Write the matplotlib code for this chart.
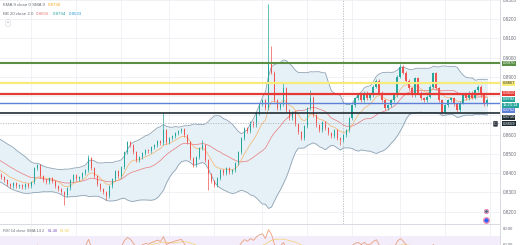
import numpy as np
import pandas as pd
import matplotlib
matplotlib.use("Agg")
import matplotlib.pyplot as plt
import matplotlib.transforms as mtrans

plt.rcParams["font.family"] = ["Liberation Sans", "DejaVu Sans"]

# ---------------- data ----------------
history_closes = [0.8560, 0.8548, 0.8552, 0.8530, 0.8518, 0.8525, 0.8502, 0.8490, 0.8478, 0.8485,
                  0.8462, 0.8450, 0.8441, 0.8428, 0.8435, 0.8410, 0.8402, 0.8395, 0.8388, 0.8392]
closes = [
    0.8379, 0.8363, 0.8343, 0.8332, 0.8348, 0.8332, 0.8337, 0.8327, 0.8343, 0.8332,
    0.8353, 0.8425, 0.8441, 0.8384, 0.8363, 0.8353, 0.8374, 0.8358, 0.8332, 0.8317,
    0.8301, 0.8286, 0.8322, 0.8363, 0.8389, 0.8368, 0.8379, 0.8400, 0.8415, 0.8477,
    0.8425, 0.8384, 0.8343, 0.8317, 0.8301, 0.8280, 0.8332, 0.8368, 0.8410, 0.8384,
    0.8431, 0.8508, 0.8560, 0.8545, 0.8508, 0.8467, 0.8482, 0.8503, 0.8519, 0.8514,
    0.8534, 0.8545, 0.8565, 0.8555, 0.8622, 0.8560, 0.8581, 0.8591, 0.8607, 0.8617,
    0.8627, 0.8596, 0.8560, 0.8477, 0.8441, 0.8482, 0.8529, 0.8545, 0.8467, 0.8394,
    0.8358, 0.8337, 0.8374, 0.8415, 0.8400, 0.8425, 0.8405, 0.8415, 0.8451, 0.8508,
    0.8581, 0.8633, 0.8617, 0.8664, 0.8648, 0.8710, 0.8757, 0.8778, 0.8736, 0.8975,
    0.8923, 0.8778, 0.8736, 0.8757, 0.8840, 0.8726, 0.8684, 0.8716, 0.8653, 0.8612,
    0.8581, 0.8643, 0.8736, 0.8793, 0.8700, 0.8648, 0.8622, 0.8664, 0.8633, 0.8607,
    0.8591, 0.8622, 0.8581, 0.8570, 0.8596, 0.8622, 0.8684, 0.8752, 0.8788, 0.8804,
    0.8778, 0.8819, 0.8788, 0.8804, 0.8850, 0.8881, 0.8819, 0.8778, 0.8736, 0.8752,
    0.8778, 0.8804, 0.8902, 0.8954, 0.8923, 0.8881, 0.8840, 0.8804, 0.8892, 0.8819,
    0.8788, 0.8778, 0.8798, 0.8850, 0.8918, 0.8840, 0.8778, 0.8716, 0.8752, 0.8778,
    0.8788, 0.8757, 0.8726, 0.8767, 0.8804, 0.8788, 0.8819, 0.8793, 0.8830, 0.8850,
    0.8804, 0.8757, 0.8782]
spike_highs = {29: 0.8493, 54: 0.8710, 67: 0.8570, 89: 0.9280, 90: 0.9063,
               94: 0.8866, 103: 0.8830, 133: 0.8969}
spike_lows = {21: 0.8234, 35: 0.8260, 69: 0.8312, 113: 0.8545}

level_prices = [0.8970, 0.8867, 0.8810, 0.8762, 0.8710]
level_labels = ["0.8970", "0.8867", "0.8810", "0.8762", "0.8710"]
level_colors = ["#5a8f45", "#f7ec7a", "#e53935", "#5d80d8", "#1f2d35"]
level_widths = [1.5, 1.6, 1.6, 1.0, 1.2]
label_prices = [0.8970, 0.8866, 0.8814, 0.8726, 0.8690]
label_text_colors = ["white", "#333333", "white", "white", "white"]

last_close_label = "0.8782"
countdown_label = "11:23:14"
dashed_price = 0.8659
dashed_label = "0.8659"
price_ticks = [0.82, 0.83, 0.84, 0.85, 0.86, 0.87, 0.88, 0.89, 0.90, 0.91, 0.92, 0.93]
hidden_ticks = [0.87, 0.88]
rsi_ticks = [60, 80]
legend_ema = ["EMA 9 close 0 SMA 9", "0.8790"]
legend_bb = ["BB 20 close 2.0", "0.8656", "0.8794", "0.8533"]
legend_rsi = ["RSI 14 close SMA 14 2", "61.48", "53.92"]

# ---------------- indicators ----------------
s = pd.Series(history_closes + closes)
n_hist = len(history_closes)
idx = np.arange(len(s)) - n_hist
opens = s.shift(1).fillna(s.iloc[0])
basis = s.rolling(20).mean()
sd = s.rolling(20).std(ddof=0)
upper = basis + 2 * sd
lower = basis - 2 * sd
ema = s.ewm(span=9, adjust=False).mean()
d = s.diff().fillna(0)
gain = d.clip(lower=0).ewm(alpha=1 / 14, adjust=False).mean()
loss = (-d.clip(upper=0)).ewm(alpha=1 / 14, adjust=False).mean()
rsi = 100 - 100 / (1 + gain / loss.replace(0, 1e-9))
rsi_ma = rsi.rolling(14).mean()

# ---------------- figure ----------------
W, H = 520, 245
fig = plt.figure(figsize=(W / 100, H / 100), dpi=100)
fig.patch.set_facecolor("white")
ax = fig.add_axes([0, 21 / H, 500 / W, 224 / H])
rax = fig.add_axes([0, 0, 500 / W, 20 / H])

ymax = 0.87 + 115 / 1930
ymin = 0.87 - 109 / 1930
ax.set_ylim(ymin, ymax)
ax.set_xlim(-0.5, 166.2)

grid_c = "#eef0f4"
for t in price_ticks:
    ax.axhline(t, color=grid_c, lw=0.6, zorder=0)
for gx in [10, 25, 40, 56, 71, 87, 102, 117, 133, 148, 163]:
    ax.axvline(gx, color=grid_c, lw=0.6, zorder=0)
    rax.axvline(gx, color=grid_c, lw=0.6, zorder=0)

# Bollinger band
ax.fill_between(idx, lower, upper, color="#e6f0f7", zorder=1, lw=0)
ax.plot(idx, upper, color="#8fa3b3", lw=0.6, zorder=2)
ax.plot(idx, lower, color="#8fa3b3", lw=0.6, zorder=2)
ax.plot(idx, basis, color="#e8797a", lw=0.5, zorder=2)
ax.plot(idx, ema, color="#f5b26b", lw=0.5, zorder=2)

# candles
up_c, dn_c = "#26a69a", "#ef5350"
wick = 0.0008
for i, o, c in zip(idx, opens, s):
    if i < 0:
        continue
    col = up_c if c >= o else dn_c
    hi = spike_highs.get(i, max(o, c) + wick)
    lo = spike_lows.get(i, min(o, c) - wick)
    ax.vlines(i, lo, hi, color=col, lw=0.5, zorder=3)
    h = c - o
    if abs(h) < 0.0003:
        h = 0.0003 if h >= 0 else -0.0003
    ax.bar(i, h, bottom=o, width=0.62, color=col, lw=0, zorder=4)

# levels
for p, col, lw in zip(level_prices, level_colors, level_widths):
    ax.axhline(p, color=col, lw=lw, zorder=5)
ax.axhline(dashed_price, color="#b2b5be", lw=0.6, ls=(0, (1.5, 1.5)), zorder=5)
ax.axvline(114, color="#b2b5be", lw=0.6, ls=(0, (1.5, 1.5)), zorder=1)

# axis styling
ax.yaxis.tick_right()
ax.set_yticks(price_ticks)
ax.set_yticklabels(["" if any(abs(t - h) < 1e-9 for h in hidden_ticks) else f"{t:.4f}"
                    for t in price_ticks])
ax.tick_params(axis="y", labelsize=3.3, colors="#6a6d78", length=0, pad=2)
ax.set_xticks([])
for sp in ["top", "left"]:
    ax.spines[sp].set_visible(False)
ax.spines["right"].set_color("#d1d4dc")
ax.spines["right"].set_linewidth(0.6)
ax.spines["bottom"].set_color("#d1d4dc")
ax.spines["bottom"].set_linewidth(0.6)

# right-side price labels
tr = mtrans.blended_transform_factory(ax.transAxes, ax.transData)
def box(y, txt, fc, tc="white"):
    ax.text(1.005, y, txt, transform=tr, fontsize=3.0, color=tc, va="center", ha="left",
            clip_on=False, zorder=10,
            bbox=dict(boxstyle="square,pad=0.12", fc=fc, ec="none"))

for lp, lt, col, tc in zip(label_prices, level_labels, level_colors, label_text_colors):
    box(lp, lt, col, tc)
box(0.8783, last_close_label, "#26a69a")
box(0.8754, countdown_label, "#26a69a")
box(0.8656, dashed_label, "#1f2d35")
ax.text(0.991, 0.8656, "C", transform=tr, fontsize=2.8, color="white", va="center", ha="center",
        clip_on=False, zorder=10, bbox=dict(boxstyle="round,pad=0.2", fc="#2a2e39", ec="none"))

# event markers
ax.scatter([0.972], [(224 - 211) / 224], s=9, transform=ax.transAxes, facecolor="white",
           edgecolor="#e07aa0", lw=0.6, zorder=10, clip_on=False)
ax.scatter([0.972], [(224 - 211) / 224], s=1.2, transform=ax.transAxes, color="#5a5f8a",
           zorder=11, clip_on=False)
ax.scatter([0.972], [(224 - 220) / 224], s=16, transform=ax.transAxes, facecolor="#2962ff",
           edgecolor="#f08cb0", lw=1.0, zorder=10, clip_on=False)

# legends (chained texts)
fig.canvas.draw()
renderer = fig.canvas.get_renderer()
def chain(x0, ypx, parts, colors, fs, gap=3):
    x = x0
    for t, c in zip(parts, colors):
        txt = fig.text(x / W, 1 - ypx / H, t, fontsize=fs, color=c, va="center")
        bb = txt.get_window_extent(renderer)
        x += bb.width + gap

chain(3, 5, legend_ema, ["#6a6d78", "#f5a623"], 3.2)
chain(3, 14, legend_bb, ["#6a6d78", "#e8797a", "#26a69a", "#2a9fd6"], 3.2)
fig.text(8 / W, 1 - 23 / H, "^", fontsize=3.0, color="#6a6d78", va="center", ha="center",
         bbox=dict(boxstyle="round,pad=0.3", fc="white", ec="#d1d4dc", lw=0.4))

# RSI panel
rax.set_xlim(-0.5, 166.2)
rax.set_ylim(58.75, 83.75)
rax.axhspan(30, 70, color="#f3ecfa", zorder=0, lw=0)
rax.plot(idx, rsi, color="#eaa07c", lw=0.6, zorder=3)
rax.plot(idx, rsi_ma, color="#f3d36b", lw=0.5, zorder=2)
rax.yaxis.tick_right()
rax.set_yticks(rsi_ticks)
rax.set_yticklabels([f"{t:.2f}" for t in rsi_ticks])
rax.tick_params(axis="y", labelsize=3.1, colors="#6a6d78", length=0, pad=2)
rax.set_xticks([])
for sp in ["top", "left", "bottom"]:
    rax.spines[sp].set_visible(False)
rax.spines["right"].set_color("#d1d4dc")
rax.spines["right"].set_linewidth(0.6)
chain(3, 231, legend_rsi, ["#6a6d78", "#7e57c2", "#f3c94b"], 2.9)

fig.savefig("out.png", dpi=100, facecolor="white")
